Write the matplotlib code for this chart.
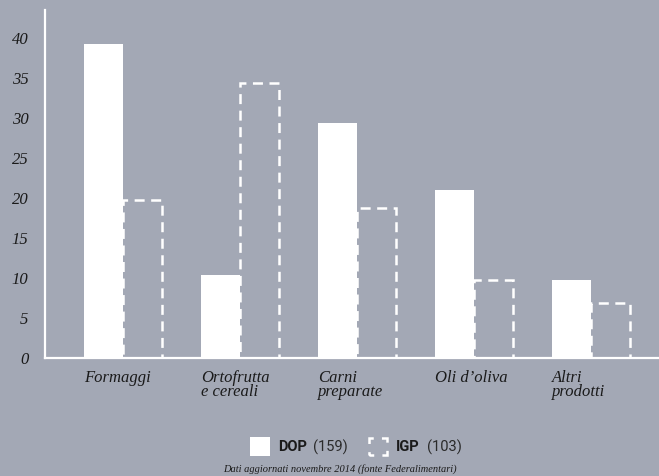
import numpy as np
import matplotlib.pyplot as plt
from matplotlib.patches import Rectangle

plt.rcParams['lines.scale_dashes'] = False

categorie = ["Formaggi", "Ortofrutta\ne cereali", "Carni\npreparate", "Oli d\u2019oliva", "Altri\nprodotti"]
dop = [39.2, 10.4, 29.4, 21.0, 9.8]
igp = [19.7, 34.4, 18.8, 9.7, 6.9]
yticks = [0, 5, 10, 15, 20, 25, 30, 35, 40]

bg = "#a3a8b5"
serif = "Liberation Serif"

fig = plt.figure(figsize=(6.59, 4.76), dpi=100)
fig.patch.set_facecolor(bg)
ax = fig.add_axes([0.0683, 0.248, 0.9317, 0.731])
ax.set_facecolor(bg)

x = np.arange(len(categorie))
w = 1 / 3
ax.bar(x - w / 2, dop, width=w, color="white", linewidth=0)
ax.bar(x + w / 2, igp, width=w, fill=False, edgecolor="white",
       linestyle=(0, (7.2, 4.7)), linewidth=1.8)

ax.set_xlim(-0.667, 4.58)
ax.set_ylim(0, 43.5)
ax.set_yticks(yticks)
ax.set_yticklabels([str(v) for v in yticks], fontfamily=serif, fontstyle="italic",
                   fontsize=12, color="#1a1a1a")
ax.set_xticks(x - w)
ax.set_xticklabels(categorie, fontfamily=serif, fontstyle="italic", fontsize=12,
                   color="#1a1a1a", ha="left", va="top", linespacing=0.8)
ax.tick_params(axis="both", length=0)
ax.tick_params(axis="y", pad=12)
ax.tick_params(axis="x", pad=9)

for s in ["top", "right"]:
    ax.spines[s].set_visible(False)
for s in ["left", "bottom"]:
    ax.spines[s].set_color("white")
    ax.spines[s].set_linewidth(1.6)

# legenda
fig.patches.append(Rectangle((250 / 659, 1 - 456 / 476), 20 / 659, 19 / 476,
                             transform=fig.transFigure, facecolor="white", edgecolor="none"))
fig.patches.append(Rectangle((369 / 659, 1 - 455 / 476), 18 / 659, 17 / 476,
                             transform=fig.transFigure, fill=False, edgecolor="white",
                             linewidth=1.8, linestyle=(3.6, (7.0, 5.9))))
fig.text(278 / 659, 1 - 447 / 476, "DOP", fontfamily="Roboto", fontweight="bold",
         fontsize=10.5, color="#1a1a1a", va="center")
fig.text(313 / 659, 1 - 447 / 476, "(159)", fontfamily="Roboto", fontweight="normal",
         fontsize=10.5, color="#2a2a2a", va="center")
fig.text(396 / 659, 1 - 447 / 476, "IGP", fontfamily="Roboto", fontweight="bold",
         fontsize=10.5, color="#1a1a1a", va="center")
fig.text(427 / 659, 1 - 447 / 476, "(103)", fontfamily="Roboto", fontweight="normal",
         fontsize=10.5, color="#2a2a2a", va="center")
fig.text(340 / 659, 1 - 469 / 476, "Dati aggiornati novembre 2014 (fonte Federalimentari)",
         fontfamily=serif, fontstyle="italic", fontsize=7.5, color="#1a1a1a",
         ha="center", va="center")

fig.savefig("out.png", dpi=100, facecolor=bg)
